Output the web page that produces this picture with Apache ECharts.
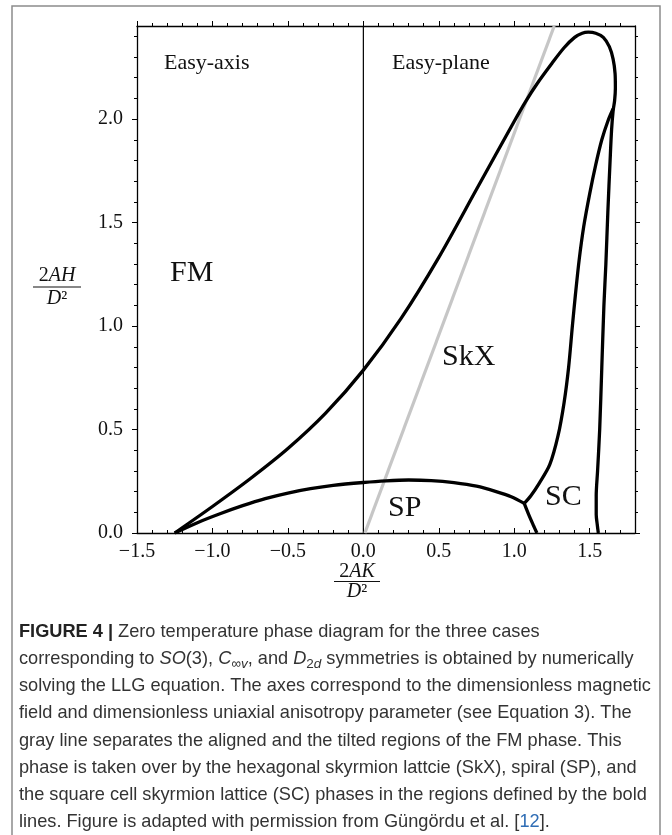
<!DOCTYPE html>
<html>
<head>
<meta charset="utf-8">
<script src="https://cdn.jsdelivr.net/npm/echarts@6/dist/echarts.min.js"></script>
<style>
  html, body { margin: 0; padding: 0; background: #fff; }
  #chart { width: 672px; height: 835px; }
</style>
</head>
<body>
<div id="chart"></div>
<script>
// Phase boundaries, coordinates are (2AK/D^2, 2AH/D^2)

// FM boundary: rises from the lower-left cusp, loops over the top and runs down the right edge of SC
const fmBoundary = [
  [-1.25, 0], [-1.0, 0.128], [-0.75, 0.262], [-0.5, 0.408], [-0.25, 0.579],
  [0, 0.787], [0.25, 1.037], [0.5, 1.332], [0.75, 1.661], [1.0, 1.99],
  [1.075, 2.085], [1.15, 2.17], [1.25, 2.27], [1.33, 2.345], [1.4, 2.395],
  [1.45, 2.415], [1.49, 2.42], [1.54, 2.415], [1.59, 2.395], [1.63, 2.35],
  [1.655, 2.29], [1.668, 2.22], [1.67, 2.15], [1.665, 2.09], [1.655, 2.04],
  [1.645, 1.95], [1.635, 1.8], [1.62, 1.55], [1.607, 1.3], [1.594, 1.1],
  [1.58, 0.8], [1.566, 0.5], [1.552, 0.3], [1.543, 0.18], [1.543, 0.09],
  [1.55, 0.04], [1.557, 0]
];

// SkX / SC boundary from the triple point up to the FM loop
const skxScBoundary = [
  [1.066, 0.143], [1.11, 0.18], [1.165, 0.24], [1.235, 0.33], [1.29, 0.47],
  [1.33, 0.63], [1.36, 0.8], [1.385, 1.0], [1.405, 1.15], [1.43, 1.32],
  [1.46, 1.48], [1.5, 1.64], [1.54, 1.78], [1.58, 1.9], [1.62, 1.99],
  [1.655, 2.05]
];

// SP / SC boundary below the triple point
const spScBoundary = [[1.066, 0.143], [1.095, 0.09], [1.125, 0.04], [1.15, 0]];

// SP boundary from the cusp to the triple point
const spBoundary = [
  [-1.25, 0], [-1.1, 0.05], [-0.95, 0.093], [-0.8, 0.132], [-0.65, 0.166],
  [-0.5, 0.193], [-0.35, 0.214], [-0.2, 0.23], [0, 0.244], [0.15, 0.252],
  [0.3, 0.256], [0.45, 0.253], [0.6, 0.243], [0.75, 0.226], [0.88, 0.2],
  [0.98, 0.175], [1.066, 0.143]
];

// Gray line between aligned and tilted FM regions
const tiltLine = [[0.01, 0], [1.265, 2.45]];

// Easy-axis / easy-plane divider at K = 0
const zeroKLine = [[0, 0], [0, 2.45]];

const xRange = [-1.5, 1.8];
const yRange = [0, 2.45];
const xMajorTicks = [-1.5, -1.0, -0.5, 0, 0.5, 1.0, 1.5];
const xMinorTicks = [-1.4, -1.3, -1.2, -1.1, -0.9, -0.8, -0.7, -0.6, -0.4, -0.3, -0.2, -0.1,
  0.1, 0.2, 0.3, 0.4, 0.6, 0.7, 0.8, 0.9, 1.1, 1.2, 1.3, 1.4, 1.6, 1.7];
const yMajorTicks = [0, 0.5, 1.0, 1.5, 2.0];
const yMinorTicks = [0.1, 0.2, 0.3, 0.4, 0.6, 0.7, 0.8, 0.9, 1.1, 1.2, 1.3, 1.4,
  1.6, 1.7, 1.8, 1.9, 2.1, 2.2, 2.3, 2.4];

const regionLabels = [
  { text: 'Easy-axis', x: 164, y: 63, size: 22 },
  { text: 'Easy-plane', x: 392, y: 63, size: 22 },
  { text: 'FM', x: 170, y: 273, size: 30 },
  { text: 'SkX', x: 442, y: 357, size: 30 },
  { text: 'SP', x: 388, y: 508, size: 30 },
  { text: 'SC', x: 545, y: 497, size: 30 }
];

const captionLines = [
  '{b|FIGURE 4 |} Zero temperature phase diagram for the three cases',
  'corresponding to {i|SO}(3), {i|C}{sub|∞}{subi|v}, and {i|D}{sub|2}{subi|d} symmetries is obtained by numerically',
  'solving the LLG equation. The axes correspond to the dimensionless magnetic',
  'field and dimensionless uniaxial anisotropy parameter (see Equation 3). The',
  'gray line separates the aligned and the tilted regions of the FM phase. This',
  'phase is taken over by the hexagonal skyrmion lattcie (SkX), spiral (SP), and',
  'the square cell skyrmion lattice (SC) phases in the regions defined by the bold',
  'lines. Figure is adapted with permission from Güngördu et al. [{ref|12}].'
];

const SERIF = '"Liberation Serif", "DejaVu Serif", serif';
const SANS = '"Liberation Sans", Arial, sans-serif';
const INK = '#111';
const CAP_SIZE = 18.2;

function fmtTick(v) {
  return (v < 0 ? '\u2212' : '') + Math.abs(v).toFixed(1);
}

function makeAxis(kind, position, range, ticks, tickLen, inside, showLine, showLabels) {
  const ax = {
    type: 'value',
    position: position,
    min: range[0],
    max: range[1],
    offset: 0,
    axisLine: { show: showLine, onZero: false, lineStyle: { color: '#000', width: 1.3 } },
    axisTick: {
      show: true, inside: inside, length: tickLen, customValues: ticks,
      lineStyle: { color: '#000', width: 1 }
    },
    axisLabel: { show: false },
    splitLine: { show: false },
    minorTick: { show: false }
  };
  if (showLabels) {
    ax.axisLabel = {
      show: true,
      customValues: ticks,
      formatter: fmtTick,
      fontFamily: SERIF,
      fontSize: 20,
      color: INK,
      margin: kind === 'x' ? 9 : 14
    };
  }
  return ax;
}

const chart = echarts.init(document.getElementById('chart'), null, { renderer: 'canvas' });

const blackLine = { color: '#000', width: 3.3 };

const graphics = [];

// Outer figure frame
graphics.push({
  type: 'rect', silent: true, z: 0,
  shape: { x: 12, y: 6, width: 648, height: 850 },
  style: { fill: 'none', stroke: '#8c8c8c', lineWidth: 1.5 }
});

regionLabels.forEach(function (l) {
  graphics.push({
    type: 'text', x: l.x, y: l.y, z: 10,
    style: {
      text: l.text, fontFamily: SERIF, fontSize: l.size, fill: INK,
      align: 'left', verticalAlign: 'middle', textAlign: 'left', textVerticalAlign: 'middle'
    }
  });
});

// Axis titles drawn as stacked fractions
function fraction(cx, numY, barY, denY, halfW, numRich) {
  const rich = {
    n: { fontFamily: SERIF, fontSize: 20, fill: INK },
    i: { fontFamily: SERIF, fontSize: 20, fontStyle: 'italic', fill: INK }
  };
  graphics.push({
    type: 'text', x: cx, y: numY, z: 10,
    style: { text: numRich, rich: rich, fill: INK, fontFamily: SERIF, fontSize: 20,
      align: 'center', verticalAlign: 'middle', textAlign: 'center', textVerticalAlign: 'middle' }
  });
  graphics.push({
    type: 'line', z: 10,
    shape: { x1: cx - halfW, y1: barY, x2: cx + halfW, y2: barY },
    style: { stroke: INK, lineWidth: 1.2 }
  });
  graphics.push({
    type: 'text', x: cx, y: denY, z: 10,
    style: { text: '{i|D}{n|²}', rich: rich, fill: INK, fontFamily: SERIF, fontSize: 20,
      align: 'center', verticalAlign: 'middle', textAlign: 'center', textVerticalAlign: 'middle' }
  });
}
fraction(57, 276, 287, 299, 24, '{n|2}{i|AH}');
fraction(357, 572, 581.5, 592, 23, '{n|2}{i|AK}');

// Caption
const capRich = {
  b: { fontFamily: SANS, fontSize: CAP_SIZE, fontWeight: 'bold', fill: '#222', lineHeight: 27 },
  i: { fontFamily: SANS, fontSize: CAP_SIZE, fontStyle: 'italic', fill: '#333', lineHeight: 27 },
  sub: { fontFamily: SANS, fontSize: 13.5, fill: '#333', lineHeight: 14, padding: [11, 0, 0, 0] },
  subi: { fontFamily: SANS, fontSize: 13.5, fontStyle: 'italic', fill: '#333', lineHeight: 14, padding: [11, 0, 0, 0] },
  ref: { fontFamily: SANS, fontSize: CAP_SIZE, fill: '#2f6db5', lineHeight: 27 }
};
captionLines.forEach(function (line, k) {
  graphics.push({
    type: 'text', x: 19, y: 632 + k * 27.15, z: 10,
    style: {
      text: line, rich: capRich, fontFamily: SANS, fontSize: CAP_SIZE, fill: '#333', lineHeight: 27,
      align: 'left', verticalAlign: 'middle', textAlign: 'left', textVerticalAlign: 'middle'
    }
  });
});

chart.setOption({
  animation: false,
  backgroundColor: '#fff',
  grid: { left: 137, right: 37, top: 26, bottom: 302, containLabel: false, outerBoundsMode: 'none' },
  xAxis: [
    makeAxis('x', 'bottom', xRange, xMajorTicks, 5, true, true, true),
    makeAxis('x', 'bottom', xRange, xMinorTicks, 3, true, false, false),
    makeAxis('x', 'top', xRange, xMajorTicks, 5, false, true, false),
    makeAxis('x', 'top', xRange, xMinorTicks, 3, false, false, false)
  ],
  yAxis: [
    makeAxis('y', 'left', yRange, yMajorTicks, 5, false, true, true),
    makeAxis('y', 'left', yRange, yMinorTicks, 3, false, false, false),
    makeAxis('y', 'right', yRange, yMajorTicks, 5, false, true, false),
    makeAxis('y', 'right', yRange, yMinorTicks, 3, false, false, false)
  ],
  series: [
    { name: 'K = 0', type: 'line', data: zeroKLine, showSymbol: false, silent: true, z: 1,
      lineStyle: { color: '#000', width: 1.2 } },
    { name: 'tilt', type: 'line', data: tiltLine, showSymbol: false, silent: true, z: 2,
      lineStyle: { color: '#c6c6c6', width: 3.2 } },
    { name: 'FM', type: 'line', data: fmBoundary, showSymbol: false, silent: true, z: 3,
      smooth: 0.3, lineStyle: blackLine },
    { name: 'SkX-SC', type: 'line', data: skxScBoundary, showSymbol: false, silent: true, z: 3,
      smooth: 0.3, lineStyle: blackLine },
    { name: 'SP-SC', type: 'line', data: spScBoundary, showSymbol: false, silent: true, z: 3,
      smooth: 0.3, lineStyle: blackLine },
    { name: 'SP', type: 'line', data: spBoundary, showSymbol: false, silent: true, z: 3,
      smooth: 0.3, lineStyle: blackLine }
  ],
  graphic: graphics
});
</script>
</body>
</html>
